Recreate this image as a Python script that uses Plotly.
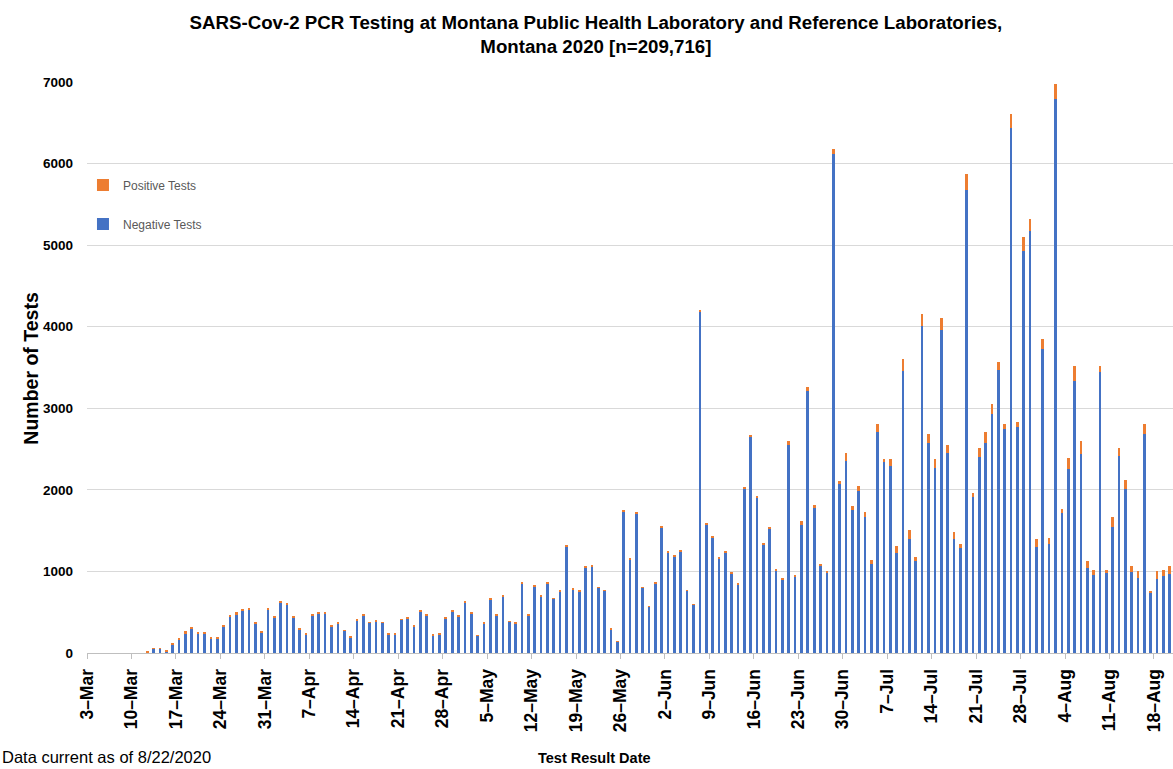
import pandas as pd
import plotly.graph_objects as go

# ---- data ----
dates = pd.date_range("2020-03-12", "2020-08-20", freq="D")

neg_mar = [5, 49, 49, 24, 107, 166, 245, 298, 239, 241, 182, 182, 314, 436, 470, 510, 527, 362, 250, 530]
pos_mar = [15, 12, 12, 5, 15, 18, 20, 20, 22, 20, 18, 18, 25, 25, 28, 25, 28, 18, 15, 25]

neg_apr = [435, 613, 592, 433, 283, 223, 457, 480, 482, 325, 366, 270, 190, 404, 459, 370, 386, 370, 229, 229,
           406, 425, 329, 504, 461, 216, 225, 427, 510, 447]
pos_apr = [22, 20, 22, 20, 15, 14, 16, 18, 16, 14, 14, 12, 10, 12, 14, 10, 10, 10, 8, 8,
           10, 12, 10, 14, 12, 8, 12, 10, 12, 10]

neg_may = [625, 485, 214, 363, 659, 465, 696, 380, 363, 849, 465, 817, 696, 849, 663, 757, 1300, 778, 757, 1049,
           1066, 798, 761, 292, 135, 1731, 1147, 1711, 798, 568, 853]
pos_may = [12, 10, 6, 8, 10, 8, 10, 8, 8, 12, 8, 12, 10, 12, 10, 10, 14, 10, 10, 12,
           12, 10, 10, 6, 4, 16, 12, 16, 10, 8, 12]

neg_jun = [1540, 1226, 1188, 1249, 761, 591, 4181, 1578, 1420, 1154, 1229, 980, 839, 2016, 2655, 1908, 1333, 1522,
           1012, 896, 2548, 937, 1571, 3206, 1779, 1070, 986, 6113, 2074, 2358]
pos_jun = [12, 14, 12, 14, 8, 4, 18, 14, 12, 12, 14, 12, 12, 16, 20, 18, 12, 16,
           14, 14, 45, 16, 50, 60, 35, 14, 20, 70, 30, 100]

neg_jul = [1747, 1984, 1669, 1093, 2714, 2337, 2298, 1224, 3459, 1403, 1127, 4006, 2579, 2264, 3957, 2458, 1403,
           1282, 5675, 1911, 2400, 2579, 2927, 3474, 2748, 6434, 2767, 4925, 5177, 1297, 3725]
pos_jul = [58, 62, 58, 49, 97, 38, 77, 92, 150, 106, 49, 150, 111, 111, 146, 96, 77,
           58, 193, 53, 116, 135, 121, 96, 63, 175, 68, 174, 140, 96, 126]

neg_aug = [1333, 6788, 1722, 2259, 3338, 2438, 1040, 953, 3440, 982, 1548, 2419, 2008, 987, 924, 2685, 740, 910,
           948, 968]
pos_aug = [77, 193, 49, 136, 184, 155, 82, 68, 77, 39, 116, 92, 111, 77, 77, 121, 24, 96, 73, 96]

negative_tests = neg_mar + neg_apr + neg_may + neg_jun + neg_jul + neg_aug
positive_tests = pos_mar + pos_apr + pos_may + pos_jun + pos_jul + pos_aug

y_ticks = [0, 1000, 2000, 3000, 4000, 5000, 6000, 7000]

BLUE = "#4472C4"
ORANGE = "#ED7D31"
FONT = "Liberation Sans, Arial, sans-serif"
DAY_MS = 86400000

fig = go.Figure()
fig.add_trace(go.Bar(
    x=dates, y=negative_tests, name="Negative Tests",
    marker=dict(color=BLUE, line=dict(width=0)),
    xperiod=DAY_MS, xperiodalignment="middle", width=0.42 * DAY_MS,
    legendgroup="neg", legendrank=2,
))
fig.add_trace(go.Bar(
    x=dates, y=positive_tests, name="Positive Tests",
    marker=dict(color=ORANGE, line=dict(width=0)),
    xperiod=DAY_MS, xperiodalignment="middle", width=0.42 * DAY_MS,
    legendgroup="pos", legendrank=1,
))

fig.update_layout(
    width=1173, height=769,
    barmode="stack",
    paper_bgcolor="white", plot_bgcolor="white",
    margin=dict(l=87, r=0, t=82, b=116, pad=0),
    title=dict(
        text="SARS-Cov-2 PCR Testing at Montana Public Health Laboratory and Reference Laboratories,<br>Montana 2020 [n=209,716]",
        x=0.508, xref="container", xanchor="center",
        y=1 - 29 / 769, yref="container", yanchor="top",
        font=dict(family=FONT, size=18.7, color="black", weight="bold"),
    ),
    legend=dict(
        x=-0.0037, y=0.845, xanchor="left", yanchor="top",
        bgcolor="rgba(0,0,0,0)",
        font=dict(family=FONT, size=12, color="#595959"),
        tracegroupgap=20,
        itemwidth=30,
    ),
    showlegend=True,
    xaxis=dict(
        type="date",
        range=["2020-03-03", "2020-08-21"],
        tick0="2020-03-03", dtick=7 * DAY_MS,
        tickformat="%-d\u2013%b",
        tickangle=-90,
        ticks="outside", ticklen=5, tickcolor="#BFBFBF",
        showline=True, linecolor="#BFBFBF", linewidth=1,
        showgrid=False, zeroline=False,
        ticklabelstandoff=3,
        tickfont=dict(family=FONT, size=17.5, color="black", weight="bold"),
    ),
    yaxis=dict(
        range=[0, 7000],
        tickvals=y_ticks,
        showgrid=True, gridcolor="#D9D9D9", gridwidth=1,
        zeroline=False,
        showline=False,
        ticks="", ticklabelstandoff=13,
        tickfont=dict(family=FONT, size=13.5, color="black", weight="bold"),
    ),
    annotations=[
        dict(text="Number of Tests", textangle=-90, xref="paper", yref="paper",
             x=-0.0516, y=0.4997, xanchor="center", yanchor="middle", showarrow=False,
             font=dict(family=FONT, size=19.5, color="black", weight="bold")),
        dict(text="Test Result Date", xref="paper", yref="paper",
             x=0.4669, y=-0.1845, xanchor="center", yanchor="middle", showarrow=False,
             font=dict(family=FONT, size=14.5, color="black", weight="bold")),
        dict(text="Data current as of 8/22/2020", xref="paper", yref="paper",
             x=-0.0801, y=-0.1828, xanchor="left", yanchor="middle", showarrow=False,
             font=dict(family=FONT, size=16.5, color="black")),
    ],
)

fig.write_html("out.html", config={"displayModeBar": False},
               post_script="document.body.style.margin='0';")
